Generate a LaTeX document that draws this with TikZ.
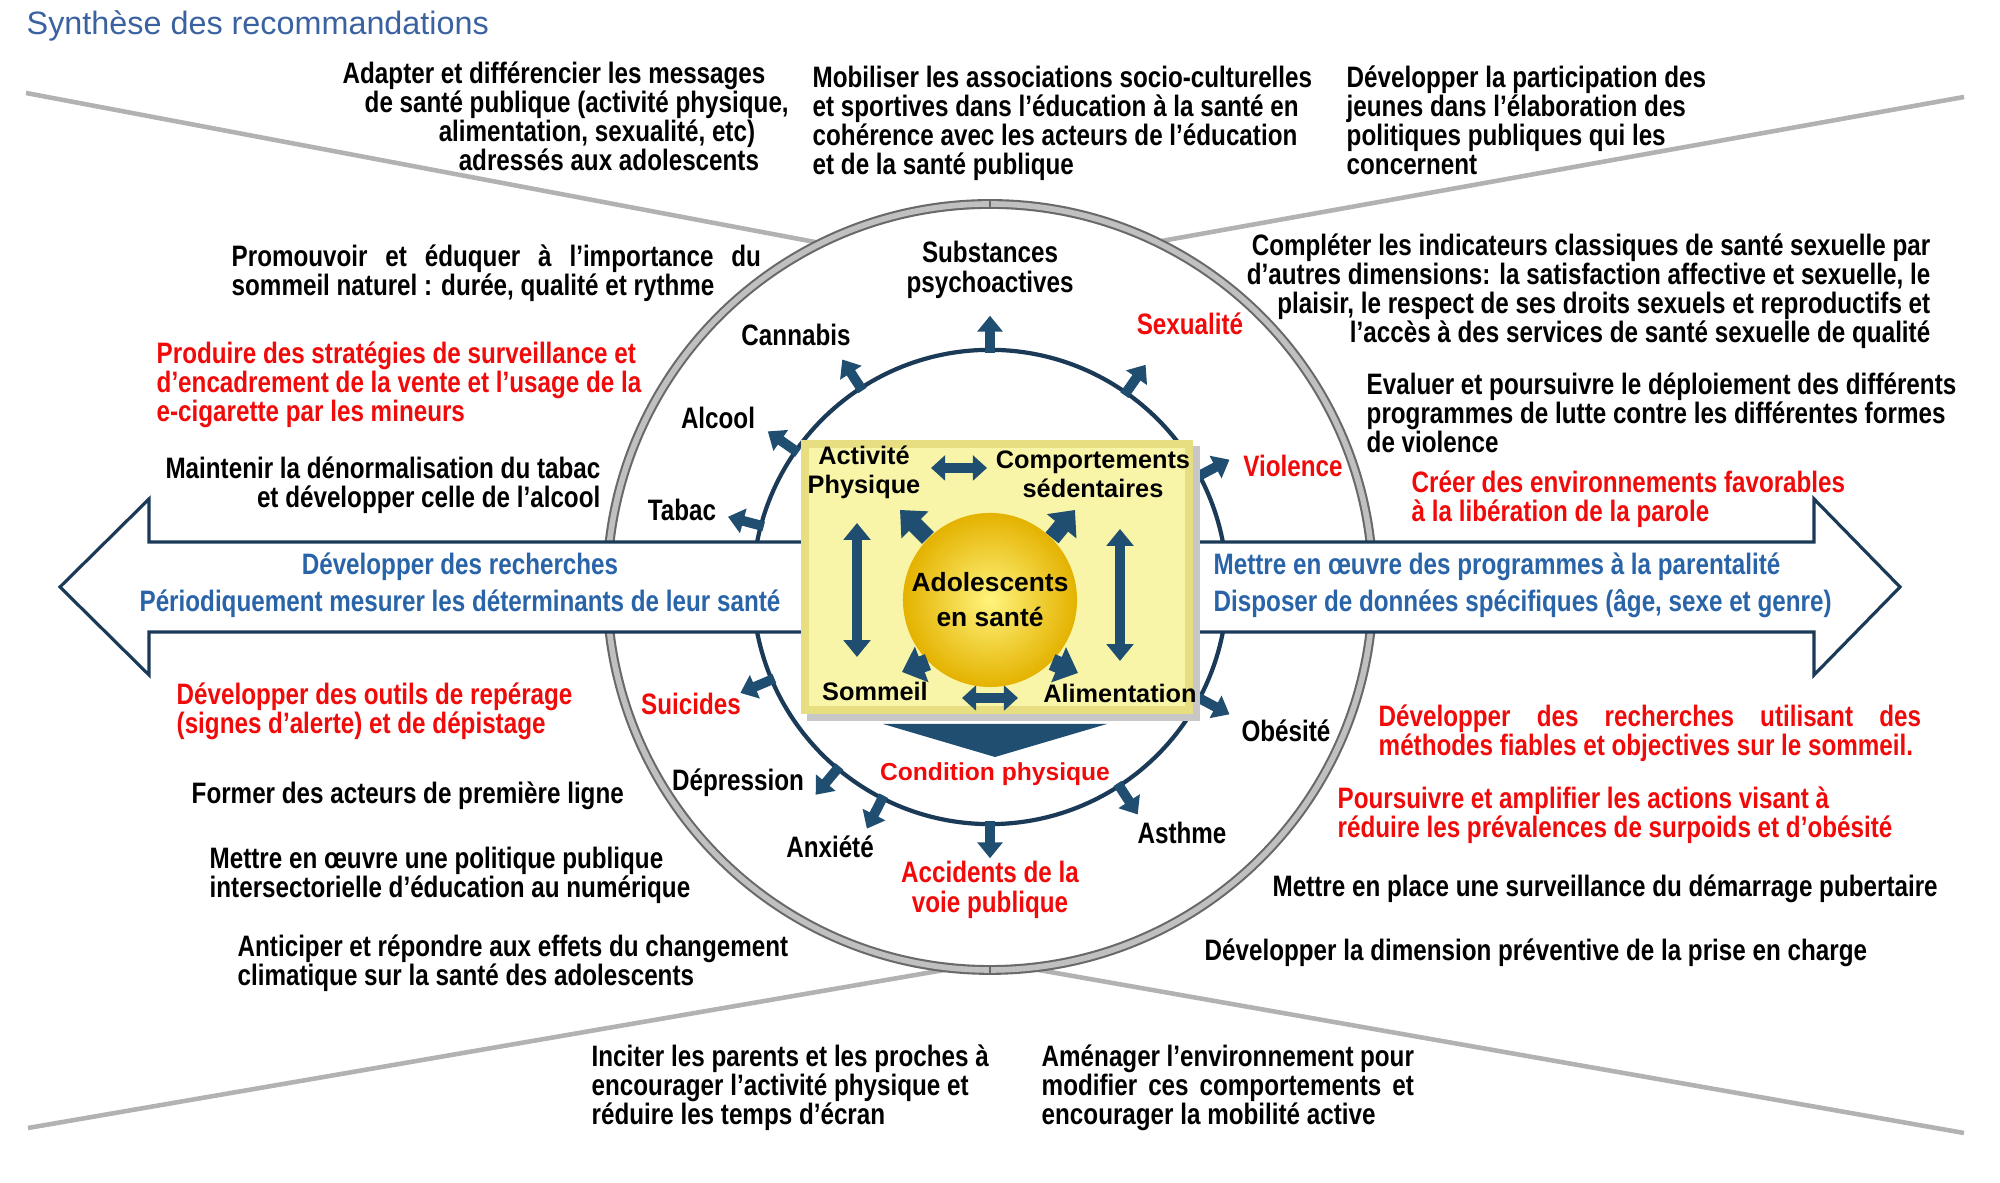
\documentclass[tikz,border=0pt]{standalone}
\usepackage{fontspec}
\setmainfont{Liberation Sans}
\newfontfamily\narrowfont[FakeStretch=0.82]{Liberation Sans}
\usetikzlibrary{arrows.meta,calc}
\definecolor{navyline}{RGB}{27,58,87}
\definecolor{arrowblue}{RGB}{31,78,112}
\definecolor{bandblue}{RGB}{42,100,168}
\definecolor{titleblue}{RGB}{58,98,160}
\definecolor{alertred}{RGB}{240,10,10}
\definecolor{ringgray}{RGB}{192,192,192}
\definecolor{ringedge}{RGB}{105,105,105}
\definecolor{rayline}{RGB}{178,178,178}
\definecolor{boxface}{RGB}{249,245,168}
\definecolor{boxedge}{RGB}{230,222,128}
\definecolor{goldlight}{RGB}{255,244,125}
\definecolor{golddark}{RGB}{228,178,0}

\tikzset{
  note/.style={font=\narrowfont\bfseries\fontsize{8.4}{8.3}\selectfont,
    align=left, inner sep=0pt, anchor=north west},
  alert/.style={note, text=alertred},
  risktxt/.style={font=\narrowfont\bfseries\fontsize{8.4}{8.6}\selectfont,
    align=center, inner sep=0pt},
  boxtxt/.style={font=\bfseries\fontsize{7.2}{8.2}\selectfont, align=center, inner sep=0pt},
  bandtxt/.style={font=\narrowfont\bfseries\fontsize{8.4}{10.5}\selectfont,
    text=bandblue, inner sep=0pt},
  radarrow/.style={arrowblue, line width=2.8pt, -{Triangle[width=7pt,length=4.5pt]}},
  hdbl/.style={arrowblue, line width=2.6pt,
    {Triangle[width=7pt,length=4pt]}-{Triangle[width=7pt,length=4pt]}},
  vdbl/.style={arrowblue, line width=3pt,
    {Triangle[width=7.5pt,length=4.8pt]}-{Triangle[width=7.5pt,length=4.8pt]}},
  diag/.style={arrowblue, line width=4.8pt, -{Triangle[width=10.5pt,length=6pt]}},
  ray/.style={rayline, line width=1.3pt},
}

\begin{document}
\begin{tikzpicture}[x=0.01cm,y=0.01cm]
  \useasboundingbox (0,0) rectangle (2000,1183);
  \coordinate (C) at (990,596);

  % grey X lines behind the ring
  \draw[ray] (26,1090) -- (820,940);
  \draw[ray] (1964,1086) -- (1156,941);
  \draw[ray] (28,55) -- (950,214);
  \draw[ray] (1964,50) -- (1033,214);

  % outer ring
  \draw[ringedge, line width=2.8pt] (C) circle (383);
  \draw[ringgray, line width=1.6pt] (C) circle (383);
  \draw[ringedge, line width=0.5pt] (990,974) -- (990,984);
  \draw[ringedge, line width=0.5pt] (990,208) -- (990,218);

  % inner circle and risks
  \node[circle, draw=navyline, line width=1.2pt, minimum size=4.74cm, inner sep=0pt] (inner) at (C) {};
  \foreach \a/\lx/\ly/\lbl/\col in {
      90/990/913/{Substances\\psychoactives}/black,
      123/796/848/Cannabis/black,
      145/718/765/Alcool/black,
      165/682/673/Tabac/black,
      55/1190/859/Sexualité/alertred,
      28/1293/717/Violence/alertred,
      -28/1286/452/Obésité/black,
      -57/1182/350/Asthme/black,
      -90/990/293/{Accidents de la\\voie publique}/alertred,
      -117/830/336/Anxiété/black,
      -130/738/400/Dépression/black,
      -157/691/479/Suicides/alertred}{
    \draw[radarrow] (inner.\a) ++(\a:-5) -- ++(\a:37);
    \node[risktxt, text=\col] (risk\a) at (\lx,\ly) {\lbl};
  }

  % double arrow band
  \draw[navyline, line width=0.9pt, fill=white]
    (60,596) -- (149,684) -- (149,641) -- (1814,641) -- (1814,684) -- (1900,596)
    -- (1814,508) -- (1814,551) -- (149,551) -- (149,508) -- cycle;
  \node[bandtxt, align=center] (research) at (460,598)
    {Développer des recherches\\Périodiquement mesurer les déterminants de leur santé};
  \node[bandtxt, align=left, anchor=west] (parents) at (1213,598)
    {Mettre en œuvre des programmes à la parentalité\\Disposer de données spécifiques (âge, sexe et genre)};

  % yellow box
  \fill[black!22] (807,462) rectangle (1200,737);
  \fill[boxedge] (801,469) rectangle (1193,743);
  \fill[boxface] (809,477) rectangle (1185,735);
  \node[boxtxt] (act) at (864,711) {Activité\\Physique};
  \node[boxtxt] (sed) at (1093,709) {Comportements\\sédentaires};
  \node[boxtxt] (sleep) at (875,492) {Sommeil};
  \node[boxtxt] (food) at (1120,490) {Alimentation};
  \draw[hdbl] (931,715) -- (987,715);
  \draw[hdbl] (962,485) -- (1018,485);
  \draw[vdbl] (857,660) -- (857,526);
  \draw[vdbl] (1120,654) -- (1120,522);

  \node[circle, minimum size=1.74cm, inner sep=0pt, inner color=goldlight, outer color=golddark,
    font=\bfseries\fontsize{7.5}{10}\selectfont, align=center] (ado) at (990,583)
    {Adolescents\\en santé};
  \draw[diag] (ado.135) -- (900,673);
  \draw[diag] (ado.45) -- (1075,673);
  \draw[diag] (ado.225) -- (902,511);
  \draw[diag] (ado.315) -- (1078,510);

  % chevron
  \fill[arrowblue] (883,459) -- (1107,459) -- (995,426) -- cycle;
  \node[font=\bfseries\fontsize{7}{8}\selectfont, text=alertred, inner sep=0pt] (cond) at (995,409) {Condition physique};

  % title
  \node[font=\fontsize{9.2}{11}\selectfont, text=titleblue, anchor=west, inner sep=0pt] (title) at (26,1157)
    {Synthèse des recommandations};

  % recommendations, top
  \node[note] (msg) at (342,1122) {Adapter et différencier les messages\\
    \hspace*{0.22cm}de santé publique (activité physique,\\
    \hspace*{0.96cm}alimentation, sexualité, etc)\\
    \hspace*{1.16cm}adressés aux adolescents};
  \node[note] (assoc) at (812,1118) {Mobiliser les associations socio-culturelles\\
    et sportives dans l’éducation à la santé en\\
    cohérence avec les acteurs de l’éducation\\
    et de la santé publique};
  \node[note] (jeunes) at (1346,1118) {Développer la participation des\\
    jeunes dans l’élaboration des\\
    politiques publiques qui les\\
    concernent};

  % left side
  \node[note] (sommeil) at (231,939) {\makebox[5.29cm][s]{Promouvoir et éduquer à l’importance du}\\
    sommeil naturel : durée, qualité et rythme};
  \node[alert] (ecig) at (156,842) {Produire des stratégies de surveillance et\\
    d’encadrement de la vente et l’usage de la\\
    e-cigarette par les mineurs};
  \node[note, align=right, anchor=north east] (tabac) at (601,727) {Maintenir la dénormalisation du tabac\\
    et développer celle de l’alcool};
  \node[alert] (outils) at (176,501) {Développer des outils de repérage\\
    (signes d’alerte) et de dépistage};
  \node[note] (former) at (191,402) {Former des acteurs de première ligne};
  \node[note] (numerique) at (209,337) {Mettre en œuvre une politique publique\\
    intersectorielle d’éducation au numérique};
  \node[note] (climat) at (237,249) {Anticiper et répondre aux effets du changement\\
    climatique sur la santé des adolescents};

  % bottom
  \node[note] (proches) at (591,139) {Inciter les parents et les proches à\\
    encourager l’activité physique et\\
    réduire les temps d’écran};
  \node[note] (amenager) at (1041,139) {\makebox[3.72cm][s]{Aménager l’environnement pour}\\
    \makebox[3.72cm][s]{modifier ces comportements et}\\
    encourager la mobilité active};

  % right side
  \node[note, align=right, anchor=north east] (sexo) at (1931,950) {Compléter les indicateurs classiques de santé sexuelle par\\
    d’autres dimensions: la satisfaction affective et sexuelle, le\\
    plaisir, le respect de ses droits sexuels et reproductifs et\\
    l’accès à des services de santé sexuelle de qualité};
  \node[note] (violence) at (1366,811) {Evaluer et poursuivre le déploiement des différents\\
    programmes de lutte contre les différentes formes\\
    de violence};
  \node[alert] (parole) at (1411,713) {Créer des environnements favorables\\
    à la libération de la parole};
  \node[alert] (methodes) at (1378,479) {\makebox[5.42cm][s]{Développer des recherches utilisant des}\\
    méthodes fiables et objectives sur le sommeil.};
  \node[alert] (surpoids) at (1337,397) {Poursuivre et amplifier les actions visant à\\
    réduire les prévalences de surpoids et d’obésité};
  \node[note] (puberte) at (1272,309) {Mettre en place une surveillance du démarrage pubertaire};
  \node[note] (prise) at (1204,245) {Développer la dimension préventive de la prise en charge};
\end{tikzpicture}
\end{document}
